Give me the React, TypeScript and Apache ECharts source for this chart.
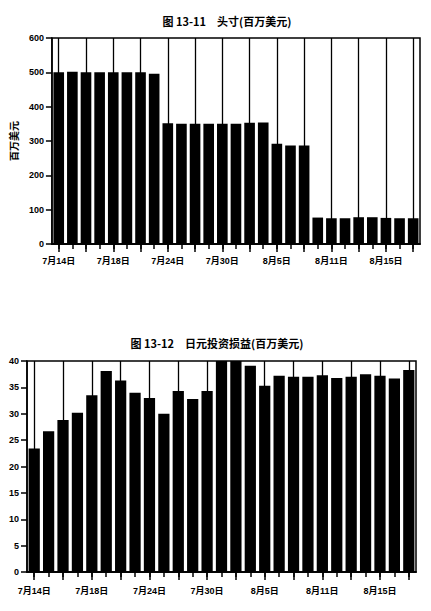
import React, { useEffect, useRef } from "react";
import * as echarts from "echarts";

const categories: string[] = [
  "7月14日", "7月15日", "7月16日", "7月17日", "7月18日",
  "7月21日", "7月22日", "7月23日", "7月24日", "7月25日",
  "7月28日", "7月29日", "7月30日", "7月31日", "8月1日",
  "8月4日", "8月5日", "8月6日", "8月7日", "8月8日",
  "8月11日", "8月12日", "8月13日", "8月14日", "8月15日",
  "8月18日", "8月19日",
];

const positionValues: number[] = [
  500, 502, 500, 500, 500, 500, 500, 496,
  352, 350, 350, 350, 350, 350, 353, 354,
  292, 287, 287,
  77, 75, 75, 78, 78, 76, 75, 75,
];

const yenPnlValues: number[] = [
  23.4, 26.7, 28.8, 30.2, 33.5, 38.1, 36.3, 34.0, 33.0, 30.0,
  34.3, 32.8, 34.3, 40, 40, 39.1, 35.3, 37.2, 37.0, 37.0,
  37.3, 36.8, 37.0, 37.5, 37.2, 36.7, 38.3,
];

const title1 = "图 13-11　头寸(百万美元)";
const title2 = "图 13-12　日元投资损益(百万美元)";
const yName1 = "百万美元";

const FONT = "'Liberation Sans', 'Noto Sans CJK SC', sans-serif";

export default function App() {
  const ref = useRef<HTMLDivElement>(null);

  useEffect(() => {
    document.body.style.margin = "0";
    if (!ref.current) return;
    const chart = echarts.init(ref.current, undefined, { renderer: "svg" });

    const labelStyle = {
      color: "#000",
      fontSize: 9,
      fontWeight: "bold" as const,
      fontFamily: FONT,
    };

    const mkX = (gridIndex: number, long: boolean, labelMargin: number) => ({
      type: "category" as const,
      gridIndex,
      data: categories,
      position: "bottom" as const,
      boundaryGap: true,
      axisLine: { show: true, lineStyle: { color: "#000", width: 1.5 } },
      axisTick: {
        show: true,
        alignWithLabel: true,
        interval: long ? 1 : 0,
        length: long ? 8 : 5,
        lineStyle: { color: "#000", width: 1.5 },
      },
      axisLabel: long
        ? { show: true, interval: 3, margin: labelMargin, ...labelStyle }
        : { show: false },
      splitLine: long
        ? {
            show: true,
            alignWithLabel: true,
            interval: 1,
            lineStyle: { color: "#000", width: 1.3 },
          }
        : { show: false },
    });

    const mkY = (gridIndex: number, max: number, interval: number, name?: string) => ({
      type: "value" as const,
      gridIndex,
      min: 0,
      max,
      interval,
      name,
      nameLocation: "middle" as const,
      nameGap: 30,
      nameRotate: 90,
      nameTextStyle: {
        color: "#000",
        fontSize: 10,
        fontWeight: "bold" as const,
        fontFamily: "'Noto Sans CJK SC', sans-serif",
      },
      axisLine: { show: true, lineStyle: { color: "#000", width: 1.5 } },
      axisTick: { show: true, length: 6, lineStyle: { color: "#000", width: 1.5 } },
      axisLabel: { margin: 8, ...labelStyle },
      splitLine: { show: false },
    });

    const gridStyle = {
      show: true,
      borderColor: "#000",
      borderWidth: 1.5,
      backgroundColor: "transparent",
    };

    chart.setOption({
      animation: false,
      title: [
        {
          text: title1,
          left: 222,
          top: 10,
          textAlign: "center",
          textStyle: {
            color: "#000",
            fontSize: 11,
            fontWeight: "bold",
            fontFamily: "'Noto Sans CJK SC', sans-serif",
          },
        },
        {
          text: title2,
          left: 212,
          top: 332,
          textAlign: "center",
          textStyle: {
            color: "#000",
            fontSize: 11,
            fontWeight: "bold",
            fontFamily: "'Noto Sans CJK SC', sans-serif",
          },
        },
      ],
      grid: [
        { left: 45, top: 38, width: 375, height: 206, ...gridStyle },
        { left: 27, top: 361, width: 389, height: 211, ...gridStyle },
      ],
      xAxis: [mkX(0, false, 12), mkX(0, true, 12), mkX(1, false, 14), mkX(1, true, 14)],
      yAxis: [mkY(0, 600, 100, yName1), mkY(1, 40, 5)],
      series: [
        {
          type: "bar",
          xAxisIndex: 0,
          yAxisIndex: 0,
          data: positionValues,
          barCategoryGap: "22%",
          itemStyle: { color: "#000" },
        },
        {
          type: "bar",
          xAxisIndex: 2,
          yAxisIndex: 1,
          data: yenPnlValues,
          barCategoryGap: "22%",
          itemStyle: { color: "#000" },
        },
      ],
    });

    return () => chart.dispose();
  }, []);

  return (
    <div
      ref={ref}
      style={{ position: "absolute", left: 0, top: 0, width: 431, height: 611, background: "#fff" }}
    />
  );
}
